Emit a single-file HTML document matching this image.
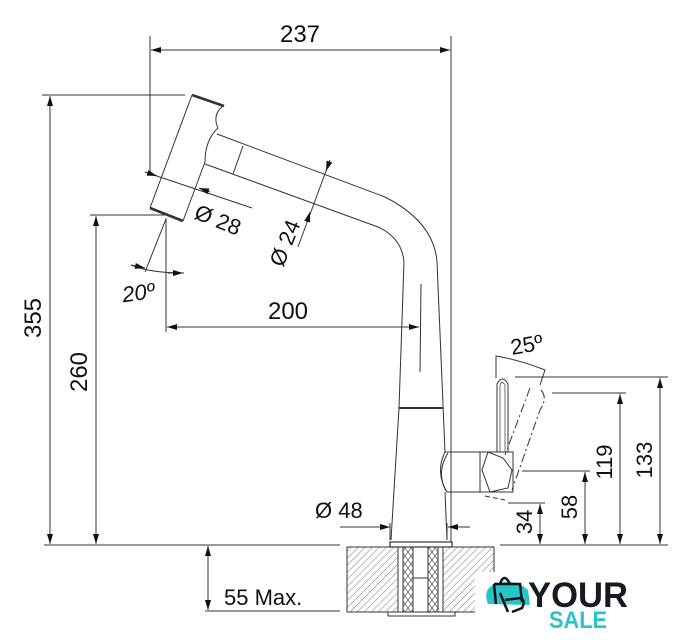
<!DOCTYPE html>
<html><head><meta charset="utf-8"><style>
html,body{margin:0;padding:0;background:#fff}
svg{display:block}
text{font-family:"Liberation Sans",Arial,sans-serif;fill:#111}
</style></head><body>
<svg width="685" height="640" viewBox="0 0 685 640" xmlns="http://www.w3.org/2000/svg">
<defs>
<marker id="a" viewBox="0 0 10 6" refX="10" refY="3" markerWidth="14" markerHeight="6" markerUnits="userSpaceOnUse" orient="auto-start-reverse"><path d="M0,0 L10,3 L0,6z" fill="#111"/></marker>
<pattern id="h" width="5" height="5" patternUnits="userSpaceOnUse" patternTransform="rotate(45)"><line x1="0" y1="0" x2="0" y2="5" stroke="#555" stroke-width="0.8"/></pattern>
<pattern id="x" width="6" height="8" patternUnits="userSpaceOnUse"><path d="M0,0 L6,8 M6,0 L0,8" stroke="#555" stroke-width="0.7"/></pattern>
</defs>
<g stroke="#333" stroke-width="1" fill="none">
<line x1="150" y1="36" x2="150" y2="175"/><line x1="451" y1="36" x2="451" y2="545"/>
<line x1="151" y1="50" x2="450" y2="50" marker-start="url(#a)" marker-end="url(#a)"/>
<line x1="42" y1="95" x2="185" y2="95"/>
<line x1="50" y1="96" x2="50" y2="544" marker-start="url(#a)" marker-end="url(#a)"/>
<line x1="90" y1="215" x2="165" y2="215"/>
<line x1="96" y1="216" x2="96" y2="544" marker-start="url(#a)" marker-end="url(#a)"/>
<line x1="44" y1="545" x2="340" y2="545"/>
<line x1="500" y1="545" x2="668" y2="545"/>
<line x1="205" y1="611" x2="340" y2="611"/>
<line x1="208" y1="546" x2="208" y2="610" marker-start="url(#a)" marker-end="url(#a)"/>
<line x1="166" y1="218" x2="166" y2="332"/>
<line x1="167" y1="327" x2="419" y2="327" marker-start="url(#a)" marker-end="url(#a)"/>
<line x1="166" y1="219" x2="145" y2="272"/>
<path d="M131,265 Q150,273 184,273"/>
<path d="M131,265 l14,3" marker-end="url(#a)"/>
<line x1="168" y1="273" x2="183" y2="273" marker-end="url(#a)"/>
<path d="M192,95 L150,208" />
<path d="M183,221 L205,162"/>
<path d="M223,106 Q212,115 218,128 Q205,140 205,162"/>
<path d="M192,95 L224,106" stroke-width="2.6"/>
<path d="M150,208 L183,221" stroke-width="2.6"/>
<path d="M217,134 L385,197 Q434,222 437,262 L445,452"/>
<path d="M205,164 L378,227 Q402,238 404,262 L399,408 L391,540"/>
<line x1="243" y1="146" x2="233" y2="174"/>
<line x1="421" y1="284" x2="420" y2="372"/>
<line x1="399" y1="408" x2="443" y2="408" stroke-width="2"/>
<line x1="445" y1="492" x2="447" y2="540"/>
<line x1="145" y1="172" x2="252" y2="208"/>
<path d="M145,172 l12,4" marker-end="url(#a)"/>
<path d="M210,192 l-11,-4" marker-end="url(#a)"/>
<line x1="330" y1="160" x2="298" y2="247"/>
<path d="M330,160 l-4,11" marker-end="url(#a)"/>
<path d="M307,222 l3,-10" marker-end="url(#a)"/>
<line x1="340" y1="527" x2="390" y2="527" marker-end="url(#a)"/>
<line x1="470" y1="527" x2="448" y2="527" marker-end="url(#a)"/>
<line x1="390" y1="523" x2="390" y2="540"/><line x1="447" y1="523" x2="447" y2="540"/>
<path d="M445,452 L480,452 L480,492 L447,492 Q435,472 445,452z"/>
<path d="M448,453 Q436,472 446,491"/>
<rect x="480" y="452" width="33" height="40"/>
<path d="M488,452 L482,470 L490,492 L508,488 L512,470 L503,458z"/>
<path d="M497,452 L497,384 Q502,374 508,384 L508,452"/>
<path d="M500,452 L500,385 Q502,380 505,385 L505,452" stroke-width="0.7"/>
<path d="M541,390 Q548,398 540,410 L512,490" stroke-dasharray="9,3,2,3"/>
<path d="M530,388 L505,455" stroke-dasharray="9,3,2,3"/>
<path d="M485,496 L505,500" stroke-dasharray="5,3"/>
<path d="M496,378 L496,356 Q520,360 545,370 L540,385"/>
<line x1="515" y1="377" x2="668" y2="377"/>
<line x1="660" y1="378" x2="660" y2="544" marker-start="url(#a)" marker-end="url(#a)"/>
<line x1="552" y1="393" x2="626" y2="393"/>
<line x1="620" y1="394" x2="620" y2="544" marker-start="url(#a)" marker-end="url(#a)"/>
<line x1="522" y1="471" x2="590" y2="471"/>
<line x1="585" y1="472" x2="585" y2="544" marker-start="url(#a)" marker-end="url(#a)"/>
<line x1="508" y1="503" x2="545" y2="503"/>
<line x1="540" y1="504" x2="540" y2="544" marker-start="url(#a)" marker-end="url(#a)"/>
<rect x="347" y="547" width="147" height="65" fill="url(#h)"/>
<rect x="398" y="547" width="45" height="65" fill="#fff"/>
<rect x="403" y="547" width="10" height="65" fill="url(#x)"/>
<rect x="428" y="547" width="10" height="65" fill="url(#x)"/>
<line x1="413" y1="578" x2="428" y2="578"/>
<rect x="390" y="542" width="62" height="5" fill="#fff" stroke-width="1.2"/>
<rect x="388" y="612" width="67" height="4" fill="#fff"/>
</g>
<rect x="475" y="572" width="210" height="68" fill="#fff"/>
<text x="300" y="42" font-size="24" text-anchor="middle">237</text>
<text x="288" y="319" font-size="24" text-anchor="middle">200</text>
<text transform="translate(41,318) rotate(-90)" font-size="24" text-anchor="middle">355</text>
<text transform="translate(87,372) rotate(-90)" font-size="24" text-anchor="middle">260</text>
<text x="122" y="300" font-size="22" font-style="italic" transform="rotate(-8 140 292)">20º</text>
<text transform="translate(193,218) rotate(22)" font-size="22">Ø 28</text>
<text transform="translate(283,268) rotate(-68)" font-size="22">Ø 24</text>
<text x="315" y="518" font-size="22">Ø 48</text>
<text x="224" y="605" font-size="22">55 Max.</text>
<text transform="translate(512,355) rotate(-10)" font-size="22">25º</text>
<text transform="translate(652,460) rotate(-90)" font-size="22" text-anchor="middle">133</text>
<text transform="translate(612,462) rotate(-90)" font-size="22" text-anchor="middle">119</text>
<text transform="translate(577,507) rotate(-90)" font-size="22" text-anchor="middle">58</text>
<text transform="translate(532,522) rotate(-90)" font-size="22" text-anchor="middle">34</text>
<path d="M488,604 Q482,588 496,584 Q515,578 528,590 L530,605z" fill="#27c4cc"/>
<path d="M494,584 L496,604 M494,584 L520,584 L522,602 M500,584 Q504,572 510,584" stroke="#111" stroke-width="2.5" fill="none"/>
<path d="M500,593 L508,612 M505,600 L520,598 Q526,600 522,608 L512,612" stroke="#111" stroke-width="2.5" fill="none"/>
<text x="528" y="607" font-size="35" font-weight="bold" style="fill:#151a24" textLength="100" lengthAdjust="spacingAndGlyphs">YOUR</text>
<text x="549" y="628" font-size="24" font-weight="bold" style="fill:#27c4cc" textLength="58" lengthAdjust="spacingAndGlyphs">SALE</text>
</svg>
</body></html>
